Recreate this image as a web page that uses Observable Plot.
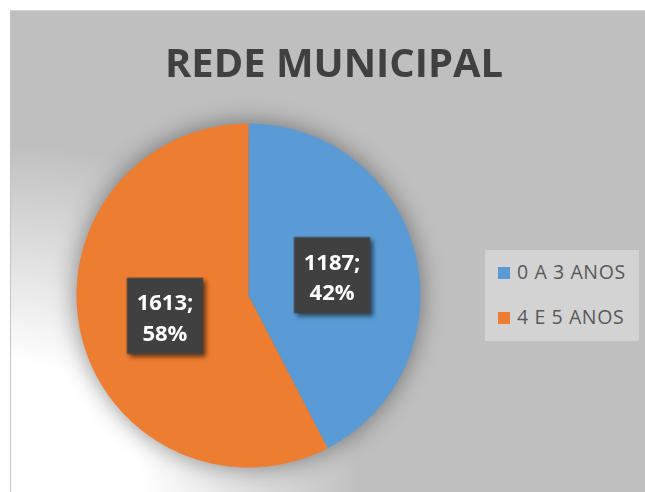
<!DOCTYPE html>
<html><head><meta charset="utf-8">
<script src="https://cdn.jsdelivr.net/npm/d3@7"></script>
<script src="https://cdn.jsdelivr.net/npm/@observablehq/plot@0.6"></script>
<style>
html,body{margin:0;padding:0;background:#fff;}
#page{position:relative;width:645px;height:492px;overflow:hidden;font-family:"Open Sans",sans-serif;}
#bg{position:absolute;left:10px;top:10px;width:635px;height:482px;border-left:1px solid #c4c4c4;border-top:1px solid #d4d4d4;
  background:radial-gradient(circle at 0% 100%, #ffffff 0px, #ffffff 130px, #bfbfbf 350px);}
#title{position:absolute;left:165px;top:42px;white-space:nowrap;font:700 40px/40px "Open Sans",sans-serif;color:#404040;transform-origin:0 0;}
#chart{position:absolute;left:0;top:100px;}
#legend{position:absolute;left:485px;top:250px;width:154px;height:91px;background:#d3d3d3;}
.sw{position:absolute;width:12px;height:12px;left:13px;}
.lt{position:absolute;left:32px;white-space:nowrap;font:400 19.5px/20px "Open Sans",sans-serif;color:#595959;letter-spacing:0.6px;}
#chart g[aria-label="line"]{filter:drop-shadow(0 0 12px rgba(0,0,0,0.42));}
#chart g[aria-label="dot"]{filter:drop-shadow(3px 3px 2px rgba(0,0,0,0.55));}
</style>
</head><body>
<div id="page">
  <div id="bg"></div>
  <div id="title"></div>
  <div id="chart"></div>
  <div id="legend"></div>
</div>
<script>
const titleText = "REDE MUNICIPAL";
const categories = ["0 A 3 ANOS", "4 E 5 ANOS"];
const values = [1187, 1613];
const colors = ["#5b9bd5", "#ed7d31"];

// title
const t = document.getElementById("title");
t.textContent = titleText;
const tw = t.getBoundingClientRect().width;
t.style.transform = `scaleX(${338 / tw})`;

// pie geometry from data
const total = d3.sum(values);
const arcs = d3.pie().sort(null).startAngle(0).endAngle(2 * Math.PI)(values);
const slicePts = [];
arcs.forEach((a, i) => {
  const cat = categories[i];
  slicePts.push({cat, x: 0, y: 0});
  const n = Math.max(2, Math.ceil((a.endAngle - a.startAngle) / (Math.PI / 360)));
  for (let k = 0; k <= n; k++) {
    const ang = a.startAngle + (a.endAngle - a.startAngle) * k / n;
    slicePts.push({cat, x: Math.sin(ang), y: Math.cos(ang)});
  }
});
const labels = arcs.map((a, i) => {
  const mid = (a.startAngle + a.endAngle) / 2;
  return {
    cat: categories[i],
    x: 0.5 * Math.sin(mid),
    y: 0.5 * Math.cos(mid),
    text: `${values[i]};\n${Math.round(values[i] / total * 100)}%`
  };
});

const plot = Plot.plot({
  width: 645,
  height: 392,
  marginLeft: 76,
  marginRight: 225,
  marginTop: 23,
  marginBottom: 25,
  style: {background: "transparent", overflow: "visible"},
  x: {domain: [-1, 1], axis: null},
  y: {domain: [-1, 1], axis: null},
  color: {domain: categories, range: colors},
  marks: [
    Plot.line(slicePts, {x: "x", y: "y", z: "cat", fill: "cat", stroke: "none", curve: "linear-closed"}),
    Plot.dot(labels, {x: "x", y: "y", symbol: "square", r: 43, fill: "#404040", stroke: "none"}),
    Plot.text(labels, {x: "x", y: "y", text: "text", fill: "#ffffff", fontSize: 22, fontWeight: "bold", fontFamily: "Open Sans", lineHeight: 1.4})
  ]
});
document.getElementById("chart").appendChild(plot);

// legend
const lg = document.getElementById("legend");
categories.forEach((c, i) => {
  const sw = document.createElement("div");
  sw.className = "sw";
  sw.style.top = (17 + i * 45) + "px";
  sw.style.background = colors[i];
  lg.appendChild(sw);
  const lt = document.createElement("div");
  lt.className = "lt";
  lt.style.top = (12 + i * 45) + "px";
  lt.textContent = c;
  lg.appendChild(lt);
});
</script>
</body></html>
